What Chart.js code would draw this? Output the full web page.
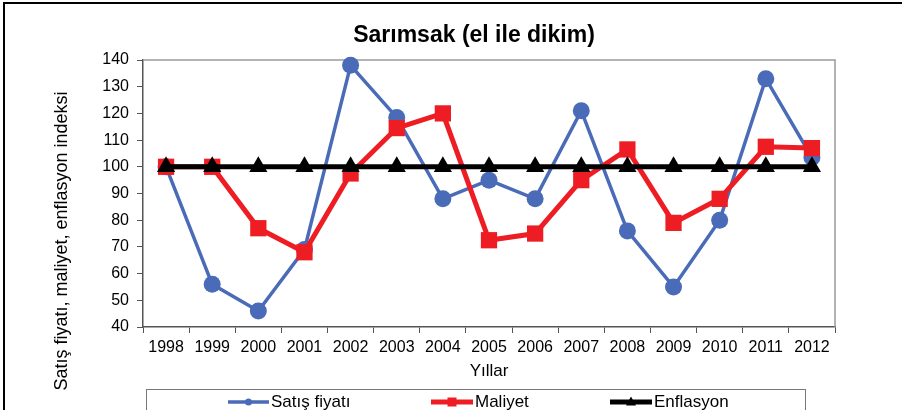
<!DOCTYPE html>
<html>
<head>
<meta charset="utf-8">
<script src="https://cdn.jsdelivr.net/npm/chart.js@4.4.1/dist/chart.umd.min.js"></script>
<style>
    html, body { margin: 0; padding: 0; background: #fff; }
    #wrap { width: 902px; height: 410px; }
</style>
</head>
<body>
<div id="wrap"><canvas id="chart" width="902" height="410"></canvas></div>
<script>
const years      = ['1998', '1999', '2000', '2001', '2002', '2003', '2004', '2005', '2006', '2007', '2008', '2009', '2010', '2011', '2012'];
const satisFiyat = [100, 56, 46, 69, 138, 118.5, 88, 95, 88, 121, 76, 55, 80, 133, 103.5];
const maliyet    = [100, 100, 77, 68, 97.5, 114.5, 120, 72.5, 75, 95, 106.5, 79, 88, 107.5, 107];
const enflasyon  = [100, 100, 100, 100, 100, 100, 100, 100, 100, 100, 100, 100, 100, 100, 100];
const yTicks     = { min: 40, max: 140, step: 10 };

const FONT = '"Liberation Sans", Arial, sans-serif';
const BLUE = '#4a6bb7';
const RED = '#ee1d24';
const BLACK = '#000000';

// outer frame lines (top + left) like the cropped figure
const framePlugin = {
    id: 'frame',
    beforeDraw(chart) {
        const ctx = chart.ctx;
        ctx.save();
        ctx.fillStyle = '#fff';
        ctx.fillRect(0, 0, chart.width, chart.height);
        ctx.strokeStyle = '#000';
        ctx.lineWidth = 2;
        ctx.beginPath();
        ctx.moveTo(4, chart.height);
        ctx.lineTo(4, 3);
        ctx.lineTo(chart.width, 3);
        ctx.stroke();
        ctx.restore();
    }
};

// grey border on top/right of plot area
const plotBorder = {
    id: 'plotBorder',
    beforeDatasetsDraw(chart) {
        const { ctx, chartArea: a } = chart;
        ctx.save();
        ctx.strokeStyle = '#9a9a9a';
        ctx.lineWidth = 1.5;
        ctx.beginPath();
        ctx.moveTo(a.left, a.top);
        ctx.lineTo(a.right, a.top);
        ctx.lineTo(a.right, a.bottom);
        ctx.stroke();
        ctx.restore();
    }
};

function marker(ctx, style, x, y, r, color) {
    ctx.fillStyle = color;
    ctx.beginPath();
    if (style === 'circle') {
        ctx.arc(x, y, r, 0, Math.PI * 2);
    } else if (style === 'rect') {
        ctx.rect(x - r, y - r, r * 2, r * 2);
    } else {
        ctx.moveTo(x, y - r * 1.1);
        ctx.lineTo(x + r, y + r * 0.7);
        ctx.lineTo(x - r, y + r * 0.7);
        ctx.closePath();
    }
    ctx.fill();
}

// title, y axis title and boxed legend
const extras = {
    id: 'extras',
    afterDraw(chart) {
        const ctx = chart.ctx;
        ctx.save();
        ctx.fillStyle = '#000';
        ctx.textAlign = 'center';
        ctx.textBaseline = 'middle';
        ctx.font = 'bold 23px ' + FONT;
        ctx.fillText('Sarımsak (el ile dikim)', 474, 36);

        ctx.font = '18px ' + FONT;
        ctx.translate(62, 241);
        ctx.rotate(-Math.PI / 2);
        ctx.fillText('Satış fiyatı, maliyet, enflasyon indeksi', 0, 0);
        ctx.restore();

        ctx.save();
        ctx.strokeStyle = '#777';
        ctx.lineWidth = 1;
        ctx.strokeRect(146.5, 389.5, 659, 40);
        const items = [
            { ds: 0, x0: 228, x1: 269, style: 'circle', r: 3.5 },
            { ds: 1, x0: 431, x1: 473, style: 'rect', r: 4.5 },
            { ds: 2, x0: 610, x1: 652, style: 'triangle', r: 5 }
        ];
        const y = 402;
        ctx.font = '17px ' + FONT;
        ctx.textAlign = 'left';
        ctx.textBaseline = 'middle';
        items.forEach(it => {
            const d = chart.data.datasets[it.ds];
            ctx.strokeStyle = d.borderColor;
            ctx.lineWidth = d.borderWidth;
            ctx.beginPath();
            ctx.moveTo(it.x0, y);
            ctx.lineTo(it.x1, y);
            ctx.stroke();
            marker(ctx, it.style, (it.x0 + it.x1) / 2, y, it.r, d.borderColor);
            ctx.fillStyle = '#000';
            ctx.fillText(d.label, it.x1 + 2, y);
        });
        ctx.restore();
    }
};

const ctx = document.getElementById('chart').getContext('2d');
new Chart(ctx, {
    type: 'line',
    data: {
        labels: years,
        datasets: [
            { label: 'Satış fiyatı', data: satisFiyat, borderColor: BLUE, backgroundColor: BLUE,
              borderWidth: 3.5, pointStyle: 'circle', pointRadius: 8.5, pointBorderWidth: 0, order: 3, clip: false },
            { label: 'Maliyet', data: maliyet, borderColor: RED, backgroundColor: RED,
              borderWidth: 5, pointStyle: 'rect', pointRadius: 11.5, pointBorderWidth: 0, order: 2, clip: false },
            { label: 'Enflasyon', data: enflasyon, borderColor: BLACK, backgroundColor: BLACK,
              borderWidth: 5, pointStyle: 'triangle', pointRadius: 10.5, pointBorderWidth: 0, order: 1, clip: false }
        ]
    },
    options: {
        responsive: false,
        animation: false,
        devicePixelRatio: 1,
        layout: { padding: { left: 0, right: 67, top: 60, bottom: 0 } },
        elements: { line: { tension: 0 } },
        plugins: {
            legend: { display: false },
            tooltip: { enabled: false },
            title: { display: false }
        },
        scales: {
            x: {
                offset: true,
                afterFit(s) { s.height = 83; },
                grid: { display: true, drawOnChartArea: false, offset: true, tickLength: 6, color: '#555', tickColor: '#555' },
                border: { display: true, color: '#555', width: 1.5 },
                ticks: { color: '#000', padding: 5, maxRotation: 0, font: { family: FONT, size: 16 } },
                title: { display: true, text: 'Yıllar', color: '#000', font: { family: FONT, size: 17 }, padding: { top: 0, bottom: 28 } }
            },
            y: {
                min: yTicks.min,
                max: yTicks.max,
                afterFit(s) { s.width = 143; },
                grid: { display: true, drawOnChartArea: false, tickLength: 6, color: '#555', tickColor: '#555' },
                border: { display: true, color: '#555', width: 1.5 },
                ticks: { stepSize: yTicks.step, color: '#000', padding: 8, font: { family: FONT, size: 16 } }
            }
        }
    },
    plugins: [framePlugin, plotBorder, extras]
});
</script>
</body>
</html>
